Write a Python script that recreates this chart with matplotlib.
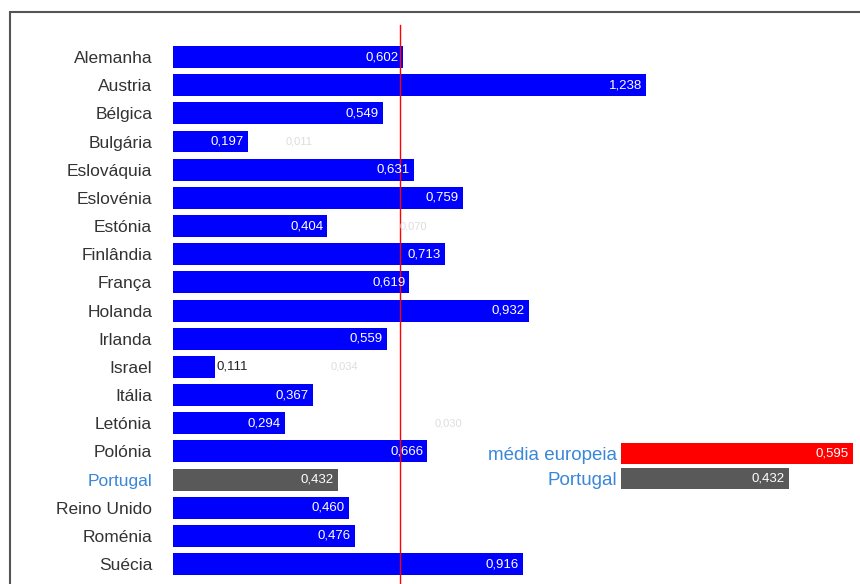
import matplotlib
matplotlib.use("Agg")
import matplotlib.pyplot as plt
from matplotlib.patches import Rectangle
from matplotlib.lines import Line2D

plt.rcParams['font.family'] = ['Liberation Sans', 'DejaVu Sans']

countries = ["Alemanha", "Austria", "Bélgica", "Bulgária", "Eslováquia", "Eslovénia",
             "Estónia", "Finlândia", "França", "Holanda", "Irlanda", "Israel", "Itália",
             "Letónia", "Polónia", "Portugal", "Reino Unido", "Roménia", "Suécia"]
values = [0.602, 1.238, 0.549, 0.197, 0.631, 0.759, 0.404, 0.713, 0.619, 0.932,
          0.559, 0.111, 0.367, 0.294, 0.666, 0.432, 0.460, 0.476, 0.916]
# faint secondary labels visible in the picture
faint_rows = ["Bulgária", "Estónia", "Israel", "Letónia"]
faint_vals = [0.011, 0.070, 0.034, 0.030]
faint_pos = [0.33, 0.63, 0.45, 0.72]

eu_avg = 0.595
inset_cats = ["média europeia", "Portugal"]
inset_vals = [0.595, 0.432]

BLUE = "#0000ff"
GRAY = "#595959"
RED = "#ff0000"
LBLUE = "#3a86d8"

def fmt(v):
    return f"{v:.3f}".replace(".", ",")

W, H = 860, 584
fig = plt.figure(figsize=(W/100, H/100), dpi=100)

# frame
fig.add_artist(Rectangle((10/W, -0.05), 1.2, 1 - 12/H + 0.05, transform=fig.transFigure,
                         fill=False, edgecolor="#555555", linewidth=1.5))

scale = 382.0
x0 = 173
row = 28.17
top = 57 - row/2
n = len(countries)
ax = fig.add_axes([x0/W, (H - (top + n*row))/H, (W - x0)/W, n*row/H])
ax.set_xlim(0, (W - x0)/scale)
ax.set_ylim(n - 0.5, -0.5)
ypos = list(range(n))
colors = [GRAY if c == "Portugal" else BLUE for c in countries]
ax.barh(ypos, values, height=0.78, color=colors)
for y, v in zip(ypos, values):
    if v < 0.15:
        ax.text(v + 0.003, y, fmt(v), ha="left", va="center", fontsize=9.5, color="#222222")
    else:
        ax.text(v - 0.011, y, fmt(v), ha="right", va="center", fontsize=9.5, color="white")
for c, v, p in zip(faint_rows, faint_vals, faint_pos):
    ax.text(p, countries.index(c), fmt(v), ha="center", va="center", fontsize=8, color="#dddddd")

ax.set_yticks(ypos)
ax.set_yticklabels(countries, fontsize=12.5, color="#333333")
for lbl in ax.get_yticklabels():
    if lbl.get_text() == "Portugal":
        lbl.set_color(LBLUE)
ax.tick_params(axis="y", length=0, pad=15)
ax.set_xticks([])
for s in ax.spines.values():
    s.set_visible(False)
ax.add_line(Line2D([eu_avg, eu_avg], [-1.15, n + 1], color=RED, linewidth=1, clip_on=False))

# inset
iscale = 390.0
ix0 = 621
itop = 441
irow = 25
ax2 = fig.add_axes([ix0/W, (H - (itop + 2*irow))/H, (W - ix0)/W, 2*irow/H])
ax2.set_xlim(0, (W - ix0)/iscale)
ax2.set_ylim(1.5, -0.5)
ax2.barh([0, 1], inset_vals, height=0.84, color=[RED, GRAY])
for y, v in zip([0, 1], inset_vals):
    ax2.text(v - 0.012, y, fmt(v), ha="right", va="center", fontsize=9.5, color="white")
ax2.set_yticks([0, 1])
ax2.set_yticklabels(inset_cats, fontsize=13.5, color=LBLUE)
ax2.tick_params(axis="y", length=0, pad=3)
ax2.set_xticks([])
for s in ax2.spines.values():
    s.set_visible(False)

fig.savefig("out.png", dpi=100)
